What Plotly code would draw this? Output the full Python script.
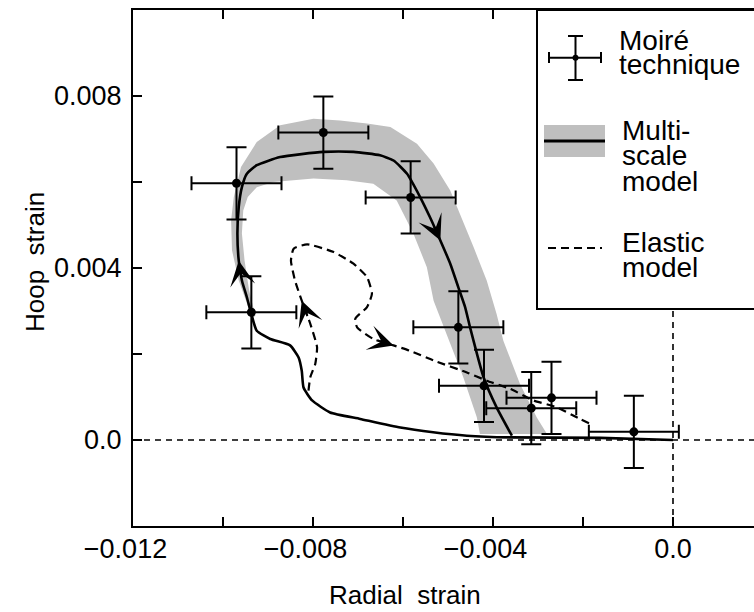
import math
import plotly.graph_objects as go

# ---------------- data ----------------
# Moiré technique measurements (radial strain, hoop strain) with error bars
moire_x = [-0.00970, -0.00777, -0.00583, -0.00937, -0.00477, -0.00420, -0.00270, -0.00315, -0.00087]
moire_y = [0.00597, 0.00715, 0.00564, 0.00297, 0.00262, 0.00126, 0.00098, 0.00074, 0.00019]
moire_ex = [0.0010, 0.0010, 0.0010, 0.0010, 0.0010, 0.0010, 0.0010, 0.0010, 0.0010]
moire_ey = [0.00084, 0.00084, 0.00084, 0.00084, 0.00084, 0.00084, 0.00084, 0.00084, 0.00084]

# Multi-scale model (solid curve)
multi_x = [0.0, -0.00162, -0.00362, -0.00458, -0.00533, -0.00606, -0.00695, -0.00762, -0.00802,
           -0.00821, -0.00825, -0.00832, -0.00851, -0.00895, -0.00925, -0.00938, -0.00947, -0.00958,
           -0.00965, -0.00968, -0.00965, -0.00958, -0.00947, -0.00925, -0.00873, -0.00777, -0.00710,
           -0.00651, -0.00621, -0.00591, -0.00562, -0.00540, -0.00517, -0.00495, -0.00477, -0.00462,
           -0.00451, -0.00421, -0.00392, -0.00358]
multi_y = [0.0, 0.00005, 0.00006, 0.00010, 0.00018, 0.00029, 0.00049, 0.00064, 0.00092,
           0.00122, 0.00161, 0.00192, 0.00220, 0.00235, 0.00254, 0.00297, 0.00332, 0.00371,
           0.00417, 0.00480, 0.00542, 0.00588, 0.00619, 0.00639, 0.00658, 0.00670, 0.00670,
           0.00662, 0.00650, 0.00619, 0.00565, 0.00518, 0.00464, 0.00410, 0.00355, 0.00309,
           0.00262, 0.00146, 0.00076, 0.00010]

# Multi-scale model uncertainty band (outer edge, then inner edge)
band_outer_x = [-0.00935, -0.00965, -0.00980, -0.00982, -0.00976, -0.00960, -0.00925, -0.00873,
                -0.00799, -0.00740, -0.00680, -0.00628, -0.00569, -0.00532, -0.00495, -0.00473,
                -0.00443, -0.00414, -0.00392, -0.00377, -0.00340, -0.00303, -0.00280]
band_outer_y = [0.00283, 0.00371, 0.00441, 0.00511, 0.00565, 0.00635, 0.00693, 0.00732,
                0.00747, 0.00743, 0.00736, 0.00728, 0.00689, 0.00643, 0.00580, 0.00526,
                0.00448, 0.00371, 0.00293, 0.00231, 0.00130, 0.00053, 0.00014]
band_inner_x = [-0.00429, -0.00436, -0.00466, -0.00503, -0.00532, -0.00547, -0.00577, -0.00614,
                -0.00666, -0.00725, -0.00799, -0.00888, -0.00925, -0.00945, -0.00955, -0.00958,
                -0.00952, -0.00942, -0.00928]
band_inner_y = [0.00014, 0.00053, 0.00146, 0.00247, 0.00324, 0.00402, 0.00480, 0.00557,
                0.00596, 0.00604, 0.00608, 0.00600, 0.00588, 0.00565, 0.00534, 0.00480,
                0.00417, 0.00348, 0.00289]

# Elastic model (dashed curve)
elastic_x = [-0.00810, -0.00806, -0.00795, -0.00791, -0.00806, -0.00825, -0.00840, -0.00849,
             -0.00843, -0.00813, -0.00754, -0.00710, -0.00680, -0.00669, -0.00680, -0.00706,
             -0.00702, -0.00666, -0.00621, -0.00586, -0.00532, -0.00458, -0.00414, -0.00362,
             -0.00310, -0.00258, -0.00207, -0.00180]
elastic_y = [0.00115, 0.00146, 0.00177, 0.00216, 0.00270, 0.00324, 0.00371, 0.00417,
             0.00445, 0.00455, 0.00437, 0.00410, 0.00379, 0.00340, 0.00309, 0.00282,
             0.00262, 0.00235, 0.00220, 0.00208, 0.00185, 0.00157, 0.00138, 0.00119,
             0.00092, 0.00076, 0.00049, 0.00036]

# direction arrows: index of the arrow tip in each curve
multi_arrow_idx = [18, 32]
elastic_arrow_idx = [5, 18]

# axes
x_range = [-0.012, 0.0018]
y_range = [-0.002, 0.010]
x_tick_vals = [-0.012, -0.010, -0.008, -0.006, -0.004, -0.002, 0.0]
x_tick_text = ["\u22120.012", "", "\u22120.008", "", "\u22120.004", "", "0.0"]
y_tick_vals = [-0.002, 0.0, 0.002, 0.004, 0.006, 0.008, 0.010]
y_tick_text = ["", "0.0", "", "0.004", "", "0.008", ""]

x_title = "Radial\u00a0\u00a0strain"
y_title = "Hoop\u00a0\u00a0strain"
legend_labels = [["Moiré", "technique"], ["Multi-", "scale", "model"], ["Elastic", "model"]]

# ---------------- layout geometry ----------------
W, H = 754, 612
ML, MT, MB, MR = 133, 10, 86, 0
PW, PH = W - ML - MR, H - MT - MB
FONT = "Liberation Sans, Arial, Helvetica, sans-serif"
GRAY = "#bfbfbf"


def px(x):
    return (x - ML) / PW


def py(y):
    return (H - MB - y) / PH


# pad negative labels so the digits (not the minus sign) centre on the tick
x_tick_text_padded = [t + "\u00a0\u00a0" if t.startswith("\u2212") else t for t in x_tick_text]

fig = go.Figure()

# band
fig.add_trace(go.Scatter(
    x=band_outer_x + band_inner_x, y=band_outer_y + band_inner_y,
    mode="lines", fill="toself", fillcolor=GRAY, line=dict(width=0, color=GRAY),
    hoverinfo="skip", showlegend=False))

# multi-scale model
fig.add_trace(go.Scatter(
    x=multi_x, y=multi_y, mode="lines",
    line=dict(color="black", width=2.6, shape="spline", smoothing=0.5),
    showlegend=False))

# elastic model
fig.add_trace(go.Scatter(
    x=elastic_x, y=elastic_y, mode="lines",
    line=dict(color="black", width=2.2, dash="8px,5px", shape="spline", smoothing=0.5),
    showlegend=False))

# Moiré measurements
fig.add_trace(go.Scatter(
    x=moire_x, y=moire_y, mode="markers",
    marker=dict(color="black", size=9),
    error_x=dict(type="data", array=moire_ex, visible=True, color="black", thickness=2, width=7),
    error_y=dict(type="data", array=moire_ey, visible=True, color="black", thickness=2, width=10),
    showlegend=False))

annotations = []
SX = PW / (x_range[1] - x_range[0])
SY = PH / (y_range[1] - y_range[0])


def add_arrow(xs, ys, i, length=18):
    dx = (xs[i - 1] - xs[i]) * SX
    dy = -(ys[i - 1] - ys[i]) * SY
    n = math.hypot(dx, dy)
    annotations.append(dict(
        x=xs[i], y=ys[i], ax=dx / n * length, ay=dy / n * length, xref="x", yref="y",
        showarrow=True, arrowhead=3, arrowsize=2.1, arrowwidth=2, arrowcolor="black",
        text=""))


for i in multi_arrow_idx:
    add_arrow(multi_x, multi_y, i)
for i in elastic_arrow_idx:
    add_arrow(elastic_x, elastic_y, i)

# axis titles
annotations.append(dict(x=px(405), y=py(595), xref="paper", yref="paper", text=x_title,
                        showarrow=False, font=dict(family=FONT, size=26, color="black"),
                        xanchor="center", yanchor="middle"))
annotations.append(dict(x=px(35), y=py(262), xref="paper", yref="paper", text=y_title,
                        showarrow=False, textangle=-90, font=dict(family=FONT, size=26, color="black"),
                        xanchor="center", yanchor="middle"))

# legend texts
legend_line_y = [[40, 65], [130, 155, 181], [242, 267]]
legend_text_x = [617, 620, 620]
for lines, ys, lx in zip(legend_labels, legend_line_y, legend_text_x):
    for t, yy in zip(lines, ys):
        annotations.append(dict(x=px(lx), y=py(yy), xref="paper", yref="paper", text=t,
                                showarrow=False, xanchor="left", yanchor="middle",
                                font=dict(family=FONT, size=28, color="black")))

shapes = []
# reference lines
shapes.append(dict(type="line", xref="paper", yref="y", x0=0, x1=1, y0=0, y1=0,
                   line=dict(color="black", width=1.6, dash="6px,5px"), layer="below"))
shapes.append(dict(type="line", xref="x", yref="paper", x0=0, x1=0, y0=0, y1=1,
                   line=dict(color="black", width=1.6, dash="6px,5px"), layer="below"))
# legend box
shapes.append(dict(type="rect", xref="paper", yref="paper", x0=px(537), x1=px(800), y0=py(309), y1=py(10),
                   fillcolor="white", line=dict(color="black", width=2), layer="above"))
# legend glyph: error bar
lk = dict(color="black", width=2)
shapes += [
    dict(type="line", xref="paper", yref="paper", x0=px(549), x1=px(601), y0=py(57.7), y1=py(57.7), line=lk),
    dict(type="line", xref="paper", yref="paper", x0=px(549), x1=px(549), y0=py(52), y1=py(63), line=lk),
    dict(type="line", xref="paper", yref="paper", x0=px(601), x1=px(601), y0=py(52), y1=py(63), line=lk),
    dict(type="line", xref="paper", yref="paper", x0=px(575.5), x1=px(575.5), y0=py(36), y1=py(80), line=lk),
    dict(type="line", xref="paper", yref="paper", x0=px(568), x1=px(583), y0=py(36), y1=py(36), line=lk),
    dict(type="line", xref="paper", yref="paper", x0=px(568), x1=px(583), y0=py(80), y1=py(80), line=lk),
    dict(type="circle", xref="paper", yref="paper", x0=px(572.5), x1=px(578.5), y0=py(60.7), y1=py(54.7),
         fillcolor="black", line=dict(color="black", width=0)),
    # band glyph
    dict(type="rect", xref="paper", yref="paper", x0=px(544), x1=px(605), y0=py(157), y1=py(125),
         fillcolor=GRAY, line=dict(width=0)),
    dict(type="line", xref="paper", yref="paper", x0=px(544), x1=px(605), y0=py(141), y1=py(141),
         line=dict(color="black", width=3)),
    # dashed glyph
    dict(type="line", xref="paper", yref="paper", x0=px(548), x1=px(602), y0=py(248), y1=py(248),
         line=dict(color="black", width=2, dash="8px,5px")),
]
for s in shapes[3:]:
    s.setdefault("layer", "above")

axis_common = dict(
    ticks="inside", ticklen=9, tickwidth=2, tickcolor="black",
    showline=True, linewidth=2, linecolor="black",
    showgrid=False, zeroline=False,
    tickfont=dict(family=FONT, size=27, color="black"),
)

fig.update_layout(
    width=W, height=H,
    margin=dict(l=ML, r=MR, t=MT, b=MB, autoexpand=False),
    paper_bgcolor="white", plot_bgcolor="white",
    showlegend=False,
    xaxis=dict(range=x_range, tickmode="array", tickvals=x_tick_vals, ticktext=x_tick_text_padded,
               mirror="ticks", ticklabelstandoff=-2, **axis_common),
    yaxis=dict(range=y_range, tickmode="array", tickvals=y_tick_vals, ticktext=y_tick_text,
               mirror=False, ticklabelstandoff=4, **axis_common),
    shapes=shapes,
    annotations=annotations,
)

fig.write_html("out.html", config={"displayModeBar": False},
               post_script="document.body.style.margin='0px';")
